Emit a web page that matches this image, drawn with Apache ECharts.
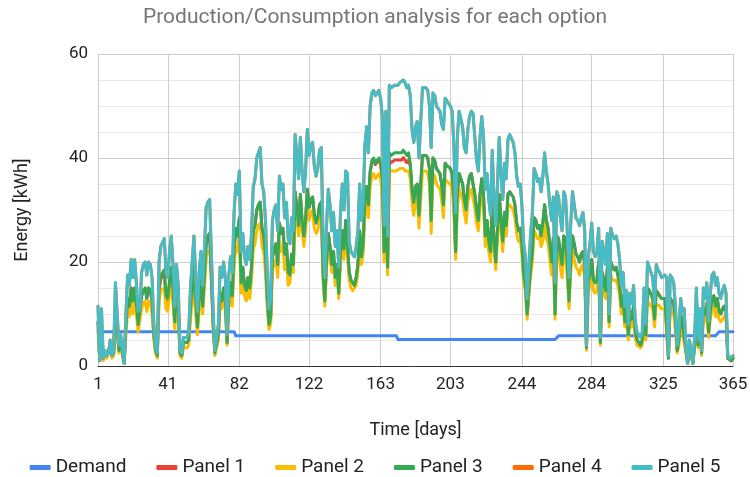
<!DOCTYPE html>
<html><head><meta charset="utf-8">
<script src="https://cdn.jsdelivr.net/npm/echarts/dist/echarts.min.js"></script>
<style>html,body{margin:0;padding:0;background:#fff}#c{width:750px;height:477px}</style>
</head><body><div id="c"></div>
<script>
const days = Array.from({length: 365}, (_, i) => String(i + 1));
const xTickLabels = ['1','41','82','122','163','203','244','284','325','365'];
const seriesNames = ['Demand','Panel 1','Panel 2','Panel 3','Panel 4','Panel 5'];

const demand = [
6.6,6.6,6.6,6.6,6.6,6.6,6.6,6.6,6.6,6.6,
6.6,6.6,6.6,6.6,6.6,6.6,6.6,6.6,6.6,6.6,
6.6,6.6,6.6,6.6,6.6,6.6,6.6,6.6,6.6,6.6,
6.6,6.6,6.6,6.6,6.6,6.6,6.6,6.6,6.6,6.6,
6.6,6.6,6.6,6.6,6.6,6.6,6.6,6.6,6.6,6.6,
6.6,6.6,6.6,6.6,6.6,6.6,6.6,6.6,6.6,6.6,
6.6,6.6,6.6,6.6,6.6,6.6,6.6,6.6,6.6,6.6,
6.6,6.6,6.6,6.6,6.6,6.6,6.6,6.6,6.6,5.8,
5.8,5.8,5.8,5.8,5.8,5.8,5.8,5.8,5.8,5.8,
5.8,5.8,5.8,5.8,5.8,5.8,5.8,5.8,5.8,5.8,
5.8,5.8,5.8,5.8,5.8,5.8,5.8,5.8,5.8,5.8,
5.8,5.8,5.8,5.8,5.8,5.8,5.8,5.8,5.8,5.8,
5.8,5.8,5.8,5.8,5.8,5.8,5.8,5.8,5.8,5.8,
5.8,5.8,5.8,5.8,5.8,5.8,5.8,5.8,5.8,5.8,
5.8,5.8,5.8,5.8,5.8,5.8,5.8,5.8,5.8,5.8,
5.8,5.8,5.8,5.8,5.8,5.8,5.8,5.8,5.8,5.8,
5.8,5.8,5.8,5.8,5.8,5.8,5.8,5.8,5.8,5.8,
5.8,5.8,5.1,5.1,5.1,5.1,5.1,5.1,5.1,5.1,
5.1,5.1,5.1,5.1,5.1,5.1,5.1,5.1,5.1,5.1,
5.1,5.1,5.1,5.1,5.1,5.1,5.1,5.1,5.1,5.1,
5.1,5.1,5.1,5.1,5.1,5.1,5.1,5.1,5.1,5.1,
5.1,5.1,5.1,5.1,5.1,5.1,5.1,5.1,5.1,5.1,
5.1,5.1,5.1,5.1,5.1,5.1,5.1,5.1,5.1,5.1,
5.1,5.1,5.1,5.1,5.1,5.1,5.1,5.1,5.1,5.1,
5.1,5.1,5.1,5.1,5.1,5.1,5.1,5.1,5.1,5.1,
5.1,5.1,5.1,5.1,5.1,5.1,5.1,5.1,5.1,5.1,
5.1,5.1,5.1,5.1,5.8,5.8,5.8,5.8,5.8,5.8,
5.8,5.8,5.8,5.8,5.8,5.8,5.8,5.8,5.8,5.8,
5.8,5.8,5.8,5.8,5.8,5.8,5.8,5.8,5.8,5.8,
5.8,5.8,5.8,5.8,5.8,5.8,5.8,5.8,5.8,5.8,
5.8,5.8,5.8,5.8,5.8,5.8,5.8,5.8,5.8,5.8,
5.8,5.8,5.8,5.8,5.8,5.8,5.8,5.8,5.8,5.8,
5.8,5.8,5.8,5.8,5.8,5.8,5.8,5.8,5.8,5.8,
5.8,5.8,5.8,5.8,5.8,5.8,5.8,5.8,5.8,5.8,
5.8,5.8,5.8,5.8,5.8,5.8,5.8,5.8,5.8,5.8,
5.8,5.8,5.8,5.8,5.8,5.8,6.6,6.6,6.6,6.6,
6.6,6.6,6.6,6.6,6.6
];

const panel1 = [
8.5,1,8,1.5,2.5,2,2,4,2,2.5,
12,12,3,4.5,2.5,0.5,7.5,13,11.5,15,
12.5,15,12,8,8,13.5,14.5,15,13,15,
14.5,12.5,6,3,2,14.3,16.8,16.8,17.8,13,
12.5,15.8,18.2,14,8.5,14.5,11.5,2.5,2,4.5,
4.5,4.5,5,11,15,19,12.5,7.5,13.5,16.5,
11.5,17,23.5,25,25.5,25.5,8,2.5,2.5,6,
14,12.5,15,12.5,4.5,13,16,13.5,22,26.5,
25,28.5,16,19,15.5,14.5,17,15,19,26,
27,30,31,31.5,26.5,25,21,13,8,9.5,
21,22.5,23.5,19.5,27.5,25.5,26.5,21.5,23.5,18,
17.5,21.5,19.5,33.5,30.5,27,33,28,25,28,
34,30.5,32,32.5,29,27.5,28.5,31,31.5,18,
12.5,20,25.5,23,19.5,22,17,19.5,14,22,
26,22.5,28,28,18,16.5,16,15.5,17,19.5,
26,21,23.5,32,34.5,31,37.2,39.2,39.7,38.7,
38.7,39.7,38.7,35.7,21.7,36.7,18.7,39.6,39.1,39.1,
39.6,39.6,39.6,39.6,39.6,40.1,39.6,39.1,39.6,38.5,
34,31.5,34.5,35,29,35,40.5,40.5,40.5,40,
38,28,40,39.5,38,37.5,37,35,31,39,
38.5,38.5,38,37,32,22,33,37,37,35,
32,30,34.5,36.5,37,37,33,30,28,33,
36,33,25,28,24,22,31.5,24,20,26.5,
33,28,24,29.5,27,33,33.5,33.5,32.5,31,
27.5,26,26.5,23.5,17.5,15.5,10,14.5,19,22,
28.5,28,26.5,27,25,27.5,31,28,26.5,23.5,
20,24.5,10,25,24.5,21.5,19.5,25,24.5,19.5,
12.5,20.5,25,23.5,21.5,21,20,21.5,22,19.5,
3.5,16,17.5,20.5,16.5,16,16.5,20,4.5,18,
16.5,14.5,19,8.5,20,19,18.5,19,17.5,15.5,
11.5,13.5,8.5,11,6,10.5,9,11.5,6.5,5,
4.5,4,5,11,6,15,14.5,14.5,13,9,
14.5,14,13.5,13,13,13,13,1.5,13,13,
12,8.5,3,5,10,8,8,3,0.5,4,
2.5,0.5,4,11,4,8,2.5,11,10,12,
6.5,10.5,13,13.5,11.5,13,10.5,10,11,11.5,
10.5,1.5,1.5,1,1.5
];

const panel2 = [
7,1,6.5,1,2,1.5,1.5,3.5,1.5,2,
10,10,2.5,3.5,2,0.5,6,10.5,9.5,12.5,
10,12.5,10,6.5,6.5,11,12,12.5,10.5,12.5,
12,10,5,2.5,1.5,12.5,14.5,14.5,15,11,
10.5,13.5,15.5,12,7,12,9.5,2,1.5,3.5,
3.5,3.5,4,9,12.5,15.5,10,6,11,13.5,
10,15,20.5,22,22,22,7,2,2,5,
12,11,13,11,4,11.5,14,11.5,19,23,
22,25,14,16.5,13.5,12.5,15,13,16.5,22.5,
23.5,26,27,27.5,23,22,18,11.5,7,8,
18.5,19.5,20.5,17,24,22,23,18.5,20.5,15.5,
16,20,18,31,28,25,30.5,26,23,26,
31.5,28,29.5,30,26.5,25.5,26,28.5,29,16.5,
11.5,18.5,23.5,21,18,20,15.5,18,13,20,
24,20.5,26,26,16.5,15,14.5,14.5,15.5,18,
24,19.5,21.5,29.5,31.5,28.5,34.5,36.5,37,36,
36,37,36,33,20,34,17.5,37.5,37.5,37.5,
37.5,37.5,37.5,38,38,38,37.5,37.5,37.5,36,
31.5,29,31.5,32,26.5,32,37.5,37.5,37.5,37,
35,25.5,37,36.5,35,34.5,34,32,28.5,36,
35.5,35.5,35,34,29.5,20.5,30.5,34,34,32,
29.5,27.5,31.5,33.5,34,34,30.5,27.5,26,30.5,
33,30.5,23,26,22,20,29,22,18.5,24.5,
30.5,26,22,27,25,30.5,31,31,30,28.5,
25.5,24,24.5,21.5,16,14.5,9,13.5,17.5,20,
26,26,24.5,25,23,24,27.5,24.5,23.5,20.5,
17.5,21.5,9,22,21.5,19,17,22,21.5,17,
11,18,22,20.5,19,18.5,17.5,19,19.5,17,
3,14,15.5,18,14.5,14,14.5,17.5,4,16,
14.5,13,16.5,7.5,17.5,16.5,16.5,16.5,15.5,13.5,
10,12,7.5,9.5,5,9,7.5,9.5,5.5,4,
4,3.5,4,9,5,12.5,12,12,11,7.5,
12,12,11.5,11,11,11,11,1.5,11,11,
10,7,2.5,4,8.5,6.5,6.5,2.5,0.5,3.5,
2,0.5,3.5,9,3.5,6.5,2,9,8.5,10,
5.5,9,11,11.5,9.5,11,9,8.5,9,9.5,
9,1.5,1.5,1,1.5
];

const panel3 = [
8.5,1,8,1.5,2.5,2,2,4,2,2.5,
12,12,3,4.5,2.5,0.5,7.5,13,11.5,15,
12.5,15,12,8,8,13.5,14.5,15,13,15,
14.5,12.5,6,3,2,15,17.5,17.5,18.5,13.5,
13,16.5,19,14.5,8.5,14.5,11.5,2.5,2,4.5,
4.5,4.5,5,11,15,19,12.5,7.5,13.5,16.5,
11.5,17,23.5,25,25.5,25.5,8,2.5,2.5,6,
14,12.5,15,12.5,4.5,13,16,13.5,22,26.5,
25,28.5,16,19,15.5,14.5,17,15,19,26,
27,30,31,31.5,26.5,25,21,13,8,9.5,
21,22.5,23.5,19.5,27.5,25.5,26.5,21.5,23.5,18,
17.5,21.5,19.5,33.5,30.5,27,33,28,25,28,
34,30.5,32,32.5,29,27.5,28.5,31,31.5,18,
12.5,20,25.5,23,19.5,22,17,19.5,14,22,
26,22.5,28,28,18,16.5,16,15.5,17,19.5,
26,21,23.5,32,34.5,31,37.5,39.5,40,39,
39,40,39,36,22,37,19,41,40.5,40.5,
41,41,41,41,41,41.5,41,40.5,41,39,
34,31.5,34.5,35,29,35,40.5,40.5,40.5,40,
38,28,40,39.5,38,37.5,37,35,31,39,
38.5,38.5,38,37,32,22,33,37,37,35,
32,30,34.5,36.5,37,37,33,30,28,33,
36,33,25,28,24,22,31.5,24,20,26.5,
33,28,24,29.5,27,33,33.5,33.5,32.5,31,
27.5,26,26.5,23.5,17.5,15.5,10,14.5,19,22,
28.5,28,26.5,27,25,27.5,31,28,26.5,23.5,
20,24.5,10,25,24.5,21.5,19.5,25,24.5,19.5,
12.5,20.5,25,23.5,21.5,21,20,21.5,22,19.5,
3.5,16,17.5,20.5,16.5,16,16.5,20,4.5,18,
16.5,14.5,19,8.5,20,19,18.5,19,17.5,15.5,
11.5,13.5,8.5,11,6,10.5,9,11.5,6.5,5,
4.5,4,5,11,6,15,14.5,14.5,13,9,
14.5,14,13.5,13,13,13,13,1.5,13,13,
12,8.5,3,5,10,8,8,3,0.5,4,
2.5,0.5,4,11,4,8,2.5,11,10,12,
6.5,10.5,13,13.5,11.5,13,10.5,10,11,11.5,
10.5,1.5,1.5,1,1.5
];

const panel4 = [
11.5,1,11,1.5,3,2,2.5,5,2,3,
16,16,4,6,3,0.5,10,17.5,15.5,20.5,
17,20.5,16,10.5,11,18,19.5,20,17.5,20,
19.5,17,8,4,2.5,20,23,23,24.5,18,
17,22,25,19.5,11.5,19.5,15.5,3,2.5,5.5,
5.5,5.5,6.5,15,20,25,17,10.5,18,22,
15.5,22.5,30.5,31.5,32,32,10.5,3,3,8,
19,17,20,17,6,17.5,21,18,29.5,35,
33,37.5,22,25.5,21,19.5,23,20.5,25.5,34.5,
36,40,41,42,35,33.5,28,18,11,13,
28,30,31,26,36.5,34,35,28.5,31.5,24.5,
23.5,28.5,26,44.5,40.5,36,44,37.5,33.5,37.5,
45.5,40.5,42.5,43,38.5,36.5,38,41.5,42,24.5,
17,27,34,31,26,29.5,23,26,19,29.5,
35,30,37.5,37,24,22,21.5,21,23,26,
35,28,31.5,42.5,46,41,50,52.5,53,52,
52,53,51.5,48,27,49,25,54,53.5,53.5,
54,54,54,54.5,54.5,55,54.5,53.5,54,52,
45.5,43,46,47,40,47,53.5,53.5,53.5,53,
50,42,52.5,52,50,49.5,49,46.5,45.5,51.5,
51,51,50,49,42.5,29.5,44,49,49,46,
42,41,45.5,48,49,48.5,44,39.5,37.5,44,
48,44,34,37,32,29,41.5,32,27,35,
44,37,32,39,36,43.5,44.5,44.5,43,41,
36.5,34.5,35,31,23.5,21,13,19.5,25.5,29.5,
38,37,35.5,36,33.5,36.5,41,37.5,35,31,
28,32.5,16,33.5,32.5,28.5,26,33.5,32.5,26,
17,27.5,33.5,31,28.5,28,27,28.5,29.5,26,
4,21,23.5,27.5,22,21,22,26.5,5.5,24,
22,19.5,25.5,10,26.5,25,24.5,25,23.5,20.5,
15.5,18,11.5,14.5,8,14,12,15.5,8.5,6.5,
6,5.5,6.5,15,8,20,19,19,17,12,
19.5,18.5,18,17,17,17.5,17,2,17.5,17,
16,11.5,4,7,13,10.5,11,4,0.5,5,
3,0.5,5.5,15,5,11,3,15,13,16,
8.5,14,17.5,18,15.5,17,14,13,14.5,15.5,
14,2,1.5,1.5,2
];

const panel5 = [
11.5,1,11,1.5,3,2,2.5,5,2,3,
16,16,4,6,3,0.5,10,17.5,15.5,20.5,
17,20.5,16,10.5,11,18,19.5,20,17.5,20,
19.5,17,8,4,2.5,20,23,23,24.5,18,
17,22,25,19.5,11.5,19.5,15.5,3,2.5,5.5,
5.5,5.5,6.5,15,20,25,17,10.5,18,22,
15.5,22.5,30.5,31.5,32,32,10.5,3,3,8,
19,17,20,17,6,17.5,21,18,29.5,35,
33,37.5,22,25.5,21,19.5,23,20.5,25.5,34.5,
36,40,41,42,35,33.5,28,18,11,13,
28,30,31,26,36.5,34,35,28.5,31.5,24.5,
23.5,28.5,26,44.5,40.5,36,44,37.5,33.5,37.5,
45.5,40.5,42.5,43,38.5,36.5,38,41.5,42,24.5,
17,27,34,31,26,29.5,23,26,19,29.5,
35,30,37.5,37,24,22,21.5,21,23,26,
35,28,31.5,42.5,46,41,50,52.5,53,52,
52,53,51.5,48,27,49,25,54,53.5,53.5,
54,54,54,54.5,54.5,55,54.5,53.5,54,52,
45.5,43,46,47,40,47,53.5,53.5,53.5,53,
50,42,52.5,52,50,49.5,49,46.5,45.5,51.5,
51,51,50,49,42.5,29.5,44,49,49,46,
42,41,45.5,48,49,48.5,44,39.5,37.5,44,
48,44,34,37,32,29,41.5,32,27,35,
44,37,32,39,36,43.5,44.5,44.5,43,41,
36.5,34.5,35,31,23.5,21,13,19.5,25.5,29.5,
38,37,35.5,36,33.5,36.5,41,37.5,35,31,
28,32.5,16,33.5,32.5,28.5,26,33.5,32.5,26,
17,27.5,33.5,31,28.5,28,27,28.5,29.5,26,
4,21,23.5,27.5,22,21,22,26.5,5.5,24,
22,19.5,25.5,10,26.5,25,24.5,25,23.5,20.5,
15.5,18,11.5,14.5,8,14,12,15.5,8.5,6.5,
6,5.5,6.5,15,8,20,19,19,17,12,
19.5,18.5,18,17,17,17.5,17,2,17.5,17,
16,11.5,4,7,13,10.5,11,4,0.5,5,
3,0.5,5.5,15,5,11,3,15,13,16,
8.5,14,17.5,18,15.5,17,14,13,14.5,15.5,
14,2,1.5,1.5,2
];

const colors = ['#4285F4','#EA4335','#FBBC04','#34A853','#FF6D01','#46BDC6'];
const seriesData = [demand, panel1, panel2, panel3, panel4, panel5];
const tickSet = new Set(xTickLabels);
const FONT = 'Roboto, "Open Sans", Arial, sans-serif';

const chart = echarts.init(document.getElementById('c'), null, {renderer: 'canvas'});
chart.setOption({
  animation: false,
  color: colors,
  title: {
    text: 'Production/Consumption analysis for each option',
    left: 'center', top: 2,
    textStyle: {color: '#757575', fontSize: 21, fontWeight: 'normal', fontFamily: FONT}
  },
  grid: {left: 98, right: 17, top: 54, bottom: 111, outerBoundsMode: 'none', containLabel: false},
  legend: {
    bottom: 0, left: 'center', padding: 0, icon: 'roundRect', itemWidth: 21, itemHeight: 5, itemGap: 30,
    textStyle: {fontSize: 19, color: '#222', fontFamily: FONT},
    data: seriesNames
  },
  xAxis: {
    type: 'category', data: days, boundaryGap: false,
    name: 'Time [days]', nameLocation: 'middle', nameGap: 55,
    nameTextStyle: {fontSize: 18, color: '#222', fontFamily: FONT},
    axisLine: {lineStyle: {color: '#333', width: 1}},
    axisTick: {show: false},
    axisLabel: {interval: (i, v) => tickSet.has(v), fontSize: 17, color: '#222', margin: 10, fontFamily: FONT},
    splitLine: {show: true, interval: (i, v) => tickSet.has(v), lineStyle: {color: '#cccccc', width: 1}}
  },
  yAxis: {
    type: 'value', min: 0, max: 60, interval: 20,
    name: 'Energy [kWh]', nameLocation: 'middle', nameGap: 67,
    nameTextStyle: {fontSize: 18, color: '#222', fontFamily: FONT},
    axisLine: {show: false}, axisTick: {show: false},
    axisLabel: {fontSize: 17, color: '#222', margin: 10, fontFamily: FONT},
    splitLine: {lineStyle: {color: '#cccccc', width: 1}},
    minorTick: {show: false, splitNumber: 4},
    minorSplitLine: {show: true, lineStyle: {color: '#e8e8e8', width: 1}}
  },
  series: seriesNames.map((n, k) => ({
    name: n, type: 'line', data: seriesData[k], showSymbol: false, symbol: 'none',
    lineStyle: {width: 3, color: colors[k], join: 'round', cap: 'round'},
    itemStyle: {color: colors[k]},
    emphasis: {disabled: true}
  }))
});
</script></body></html>
